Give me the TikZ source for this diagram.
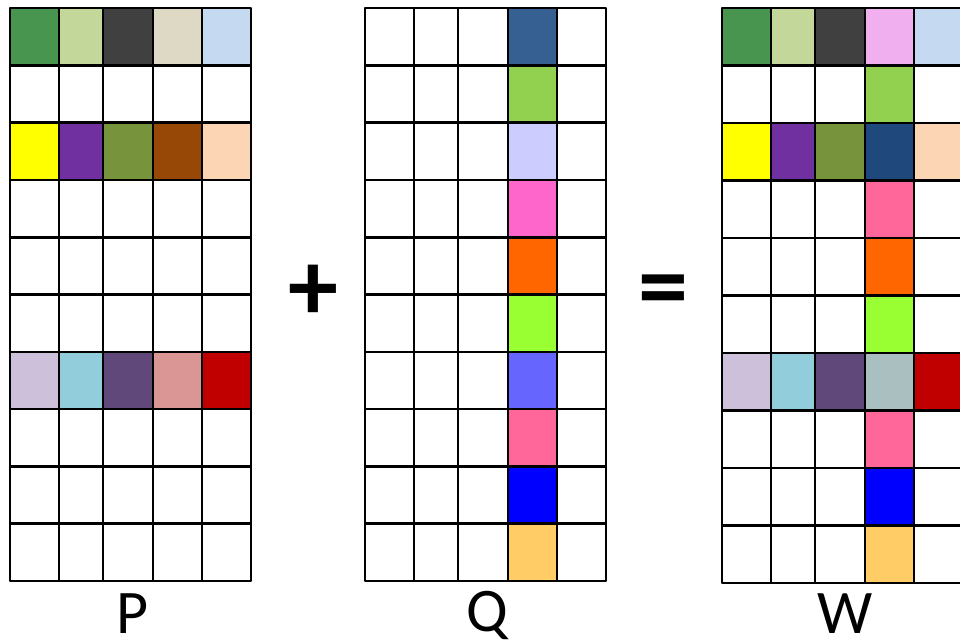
\documentclass[tikz,border=0pt]{standalone}
\usepackage{fontspec}
\setmainfont{Carlito}
\usepackage{tikz}
\usetikzlibrary{positioning}

\definecolor{pgreen}{HTML}{47954E}
\definecolor{plime}{HTML}{C4D79B}
\definecolor{pdark}{HTML}{404040}
\definecolor{pbeige}{HTML}{DDD9C4}
\definecolor{psky}{HTML}{C5D9F1}
\definecolor{pyellow}{HTML}{FFFF00}
\definecolor{ppurple}{HTML}{7030A0}
\definecolor{polive}{HTML}{77933C}
\definecolor{pbrown}{HTML}{974706}
\definecolor{ppeach}{HTML}{FCD5B4}
\definecolor{plilac}{HTML}{CCC0DA}
\definecolor{pteal}{HTML}{92CDDC}
\definecolor{pplum}{HTML}{60497A}
\definecolor{prose}{HTML}{DA9694}
\definecolor{pred}{HTML}{C00000}
\definecolor{qnavy}{HTML}{376092}
\definecolor{qgreen}{HTML}{92D050}
\definecolor{qlav}{HTML}{CCCCFF}
\definecolor{qmagenta}{HTML}{FF66CC}
\definecolor{qorange}{HTML}{FF6600}
\definecolor{qlime}{HTML}{99FF33}
\definecolor{qviolet}{HTML}{6666FF}
\definecolor{qpink}{HTML}{FF6699}
\definecolor{qblue}{HTML}{0000FF}
\definecolor{qsand}{HTML}{FFCC66}
\definecolor{worchid}{HTML}{F0B0F0}
\definecolor{wnavy}{HTML}{1F497D}
\definecolor{wgrey}{HTML}{AABFBF}

% one cell of a 5x10 grid: column, row, colour
\newcommand{\gridcell}[3]{%
  \pgfmathsetmacro{\xa}{{0,49,93,143,192,241}[#1]}%
  \pgfmathsetmacro{\xb}{{0,49,93,143,192,241}[#1+1]}%
  \fill[#3] (\xa,{#2*57.3}) rectangle (\xb,{(#2+1)*57.3});}
% the lines of the grid
\newcommand{\gridlines}{%
  \foreach \x in {0,49,93,143,192,241} {\draw[gridline] (\x,0) -- (\x,573);}
  \foreach \r in {0,...,10} {\draw[gridline] (0,{\r*57.3}) -- (241,{\r*57.3});}
  \draw[gridline] (0,0) rectangle (241,573);}

\begin{document}
\begin{tikzpicture}[x=1pt,y=-1pt,line join=round,
  gridline/.style={line width=2.6pt,black},
  letter/.style={anchor=base,inner sep=0pt,font=\fontsize{62}{62}\selectfont},
  sign/.style={inner sep=0pt,font=\fontsize{100}{100}\selectfont\bfseries}]
\useasboundingbox (0,0) rectangle (960,641);
\clip (0,0) rectangle (960,641);
% matrix P
\begin{scope}[xshift=10pt,yshift=-8pt]
\foreach \c/\col in {0/pgreen,1/plime,2/pdark,3/pbeige,4/psky} {\gridcell{\c}{0}{\col}}
\foreach \c/\col in {0/pyellow,1/ppurple,2/polive,3/pbrown,4/ppeach} {\gridcell{\c}{2}{\col}}
\foreach \c/\col in {0/plilac,1/pteal,2/pplum,3/prose,4/pred} {\gridcell{\c}{6}{\col}}
\gridlines
\end{scope}
% matrix Q
\begin{scope}[xshift=365pt,yshift=-8pt]
\foreach \r/\col in {0/qnavy,1/qgreen,2/qlav,3/qmagenta,4/qorange,5/qlime,6/qviolet,7/qpink,8/qblue,9/qsand} {\gridcell{3}{\r}{\col}}
\gridlines
\end{scope}
% matrix W
\begin{scope}[xshift=722pt,yshift=-8pt,y=-1.0035pt]
\foreach \c/\col in {0/pgreen,1/plime,2/pdark,3/worchid,4/psky} {\gridcell{\c}{0}{\col}}
\foreach \c/\col in {0/pyellow,1/ppurple,2/polive,3/wnavy,4/ppeach} {\gridcell{\c}{2}{\col}}
\foreach \c/\col in {0/plilac,1/pteal,2/pplum,3/wgrey,4/pred} {\gridcell{\c}{6}{\col}}
\foreach \r/\col in {1/qgreen,3/qpink,4/qorange,5/qlime,7/qpink,8/qblue,9/qsand} {\gridcell{3}{\r}{\col}}
\gridlines
\end{scope}
% labels and signs
\node[letter] (labP) at (133,633) {P};
\node[letter] (labQ) at (487,631) {Q};
\node[letter] (labW) at (845,633) {W};
\node[sign] (plus) at (313,293) {+};
\node[sign] (equals) at (663,297) {=};
\end{tikzpicture}
\end{document}
